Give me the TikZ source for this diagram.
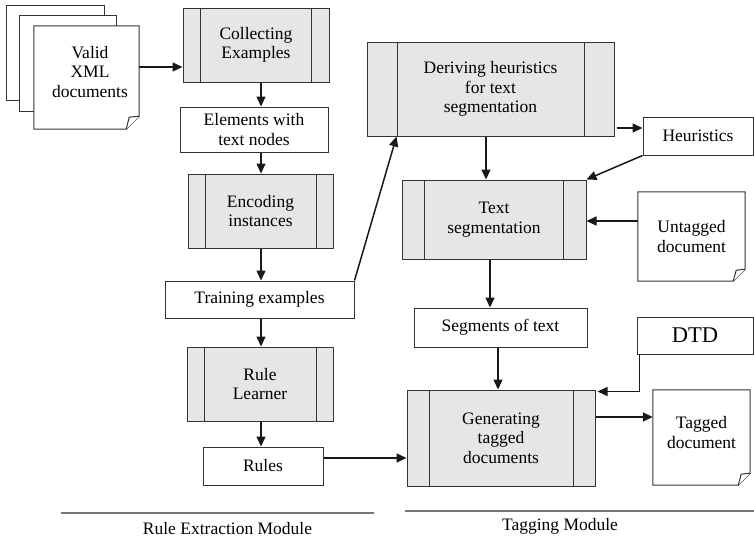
\documentclass[tikz,border=0pt]{standalone}
\usepackage{fontspec}
\setmainfont{Liberation Serif}
\usetikzlibrary{arrows.meta,calc}
\definecolor{boxfill}{HTML}{E6E6E7}
\definecolor{boxline}{HTML}{333333}
\definecolor{modline}{HTML}{777777}
\newcommand{\docoutline}[2]{%
  \draw[docline] (#1.north west) -- (#1.north east) -- ($(#1.south east)+(0,-#2)$)
    -- ($(#1.south east)+(-#2,0)$) -- (#1.south west) -- cycle;
  \draw[docline] ($(#1.south east)+(-#2,0)$) -- ($(#1.south east)+(-#2+3,-#2+1)$) -- ($(#1.south east)+(0,-#2)$);
}
\begin{document}
\begin{tikzpicture}[x=1pt,y=-1pt,
  every node/.style={font=\fontsize{17.5}{19.5}\selectfont, inner sep=0pt, align=center},
  plainbox/.style={draw=boxline, line width=1pt, fill=white, rectangle},
  procbox/.style={draw=boxline, line width=1pt, fill=boxfill, rectangle,
    path picture={
      \draw[boxline, line width=1pt]
        ([xshift=#1]path picture bounding box.north west) -- ([xshift=#1]path picture bounding box.south west)
        ([xshift=-#1]path picture bounding box.north east) -- ([xshift=-#1]path picture bounding box.south east);
    }},
  docnode/.style={rectangle, draw=none},
  docline/.style={draw=boxline, line width=1pt, fill=white},
  arr/.style={draw=black!90, line width=1.5pt, -{Triangle[length=10pt,width=9pt]}},
  modrule/.style={draw=modline, line width=1.5pt},
]
\useasboundingbox (0,0) rectangle (754,538);

% stacked documents
\node[docnode, minimum width=97pt, minimum height=94pt] (doc3) at (55.5,53) {};
\draw[docline] (doc3.north west) rectangle (doc3.south east);
\node[docnode, minimum width=96pt, minimum height=95pt] (doc2) at (68,63.5) {};
\draw[docline] (doc2.north west) rectangle (doc2.south east);
\node[docnode, minimum width=105pt, minimum height=103pt] (doc1) at (86.5,77.5) {};
\docoutline{doc1}{13}
\node (doc1t) at (90,72) {Valid\\XML\\documents};

% left column
\node[procbox=17.5pt, minimum width=146pt, minimum height=74pt] (collect) at (256,45) {Collecting\\Examples};
\node[plainbox, minimum width=148pt, minimum height=45pt] (elem) at (254,129.5) {Elements with\\text nodes};
\node[procbox=17pt, minimum width=145pt, minimum height=74pt] (encode) at (260.5,211) {Encoding\\instances};
\node[plainbox, minimum width=189pt, minimum height=37pt] (train) at (259.5,299.5) {Training examples};
\node[procbox=17pt, minimum width=146pt, minimum height=74pt] (rule) at (260,384) {Rule\\Learner};
\node[plainbox, minimum width=120pt, minimum height=38pt] (rules) at (263,466) {Rules};

% right part
\node[procbox=30pt, minimum width=247pt, minimum height=94pt] (derive) at (490.5,89) {Deriving heuristics\\for text\\segmentation};
\node[plainbox, minimum width=110pt, minimum height=38pt] (heur) at (698,136) {Heuristics};
\node[procbox=22.5pt, minimum width=184pt, minimum height=79pt] (textseg) at (494,219.5) {Text\\segmentation};
\node[docnode, minimum width=107pt, minimum height=89pt] (untag) at (691.5,236.5) {};
\docoutline{untag}{12}
\node (untagt) at (691.5,236.5) {Untagged\\document};
\node[plainbox, minimum width=173pt, minimum height=39pt] (segs) at (500.5,327.5) {Segments of text};
\node[plainbox, minimum width=116pt, minimum height=37pt, font=\fontsize{22.5}{25}\selectfont] (dtd) at (695,335.5) {DTD};
\node[procbox=22pt, minimum width=188pt, minimum height=96pt] (gen) at (501,438) {Generating\\tagged\\documents};
\node[docnode, minimum width=97pt, minimum height=95pt] (tagged) at (701.5,437.5) {};
\docoutline{tagged}{12}
\node (taggedt) at (701.5,432.5) {Tagged\\document};

% helper coordinates
\coordinate (colx) at (261,0);

% connectors left
\coordinate (a1) at ($(doc1.east)+(0,-10.5)$);
\draw[arr] (a1) -- (a1 -| collect.west);
\draw[arr] (collect.south -| colx) -- (elem.north -| colx);
\draw[arr] (elem.south -| colx) -- (encode.north -| colx);
\draw[arr] (encode.south -| colx) -- (train.north -| colx);
\draw[arr] (train.south -| colx) -- (rule.north -| colx);
\draw[arr] (rule.south -| colx) -- (rules.north -| colx);
\draw[arr] (train.north east) -- ($(derive.south west)+(30,0)$);
\coordinate (a2) at ($(rules.east)+(0,-8)$);
\draw[arr] (a2) -- (a2 -| gen.west);

% connectors right
\coordinate (a3) at ($(derive.east)+(2,39)$);
\draw[arr] (a3) -- (a3 -| heur.west);
\coordinate (a4) at (486,0);
\draw[arr] (derive.south -| a4) -- (textseg.north -| a4);
\draw[arr] (heur.south west) -- (textseg.north east);
\coordinate (a5) at ($(untag.west)+(0,-15.5)$);
\draw[arr] (a5) -- (a5 -| textseg.east);
\coordinate (a6) at (490,0);
\draw[arr] (textseg.south -| a6) -- (segs.north -| a6);
\coordinate (a7) at (498,0);
\draw[arr] (segs.south -| a7) -- (gen.north -| a7);
\coordinate (a8) at ($(dtd.south west)+(3,0)$);
\coordinate (a9) at ($(gen.north east)+(2,2)$);
\draw[arr] (a8) |- (a9);
\coordinate (a10) at ($(gen.east)+(0,-21)$);
\draw[arr] (a10) -- (a10 -| tagged.west);

% module separators
\coordinate (m1a) at (61,513);
\coordinate (m1b) at (374,513);
\draw[modrule] (m1a) -- (m1b);
\node (m1) at (227.5,529) {Rule Extraction Module};
\coordinate (m2a) at (405,511);
\coordinate (m2b) at (754,511);
\draw[modrule] (m2a) -- (m2b);
\node (m2) at (560,526) {Tagging Module};
\end{tikzpicture}
\end{document}
